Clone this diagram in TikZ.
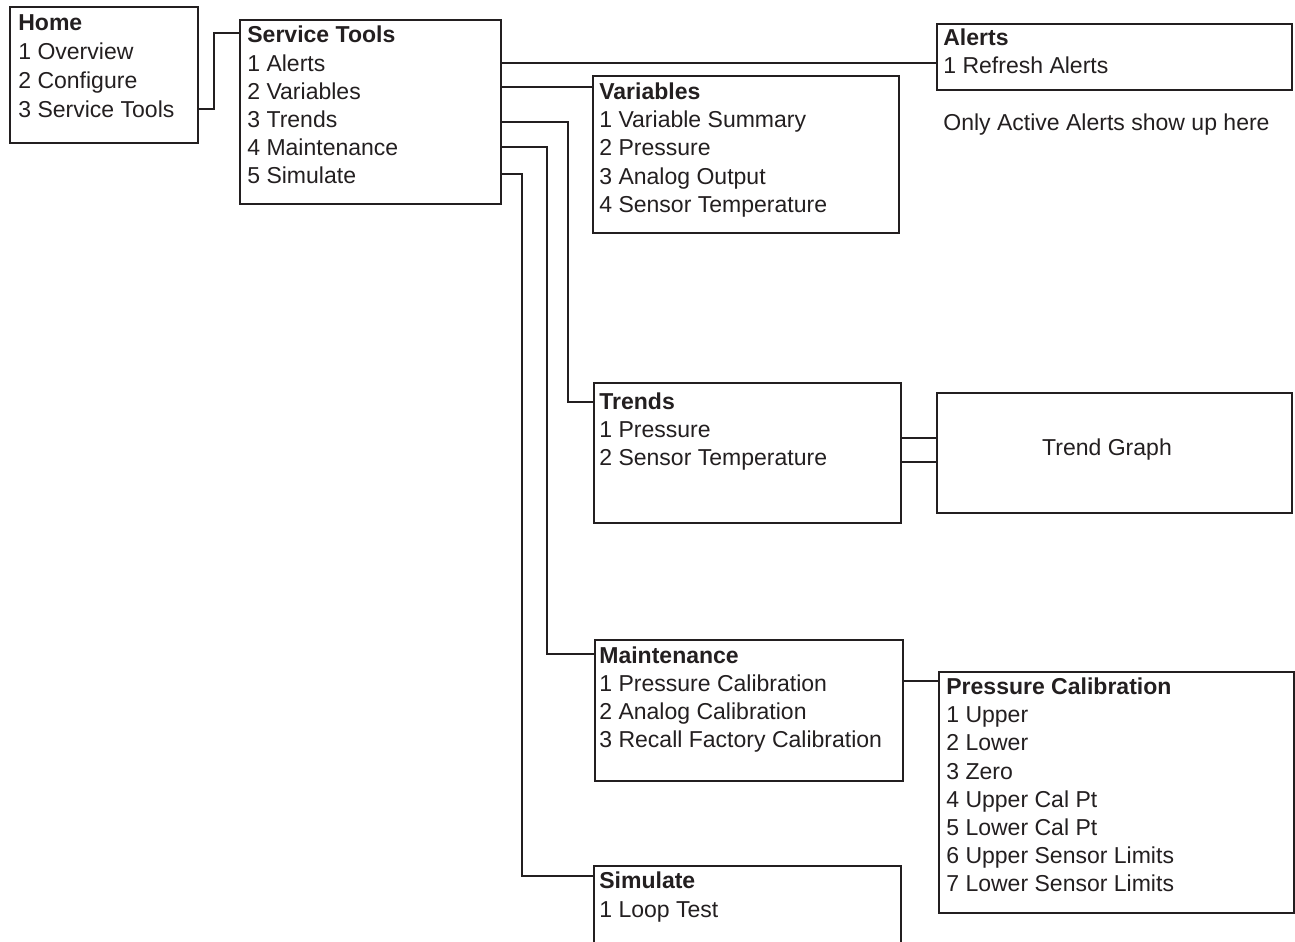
\documentclass[tikz,border=0pt]{standalone}
\usepackage{fontspec}
\setmainfont{Liberation Sans}
\definecolor{ink}{HTML}{231F20}
\tikzset{
  boxst/.style={draw=ink, line width=1.1pt, inner sep=0pt, anchor=north west},
  txt/.style={anchor=base west, inner sep=0pt, text=ink, font=\fontsize{13.1}{15}\selectfont, text height=9pt, text depth=0pt},
  hd/.style={txt, font=\fontsize{13.1}{15}\selectfont\bfseries},
  conn/.style={draw=ink, line width=0.6pt},
}
\newcommand{\mybox}[5]{\node[boxst, minimum width={(#4-#2)*0.02cm}, minimum height={(#5-#3)*0.02cm}] (#1) at (#2,#3) {};}
\newcommand{\mytxt}[4]{\node[txt] (#1) at (#2,#3+8) {#4};}
\newcommand{\myhd}[4]{\node[hd] (#1) at (#2,#3+8) {#4};}
\begin{document}
\begin{tikzpicture}[x=0.02cm, y=-0.02cm]
\useasboundingbox (0,0) rectangle (1295,941);
% boxes
\mybox{home}{9}{6}{197}{142}
\mybox{st}{239}{19}{500}{203}
\mybox{alerts}{936}{23}{1291}{89}
\mybox{var}{592}{75}{898}{232}
\mybox{trends}{593}{382}{900}{522}
\mybox{tg}{936}{392}{1291}{512}
\mybox{maint}{594}{639}{902}{780}
\mybox{pc}{938}{671}{1293}{912}
\node[inner sep=0pt, minimum width={(900-594)*0.02cm}, minimum height={(950-866)*0.02cm}, anchor=north west] (sim) at (594,866) {};
\draw[draw=ink, line width=1.1pt] (sim.south west) -- (sim.north west) -- (sim.north east) -- (sim.south east);
% texts
\myhd{home0}{18}{22}{Home}
\mytxt{home1}{18}{51}{1 Overview}
\mytxt{home2}{18}{80}{2 Configure}
\mytxt{home3}{18}{109}{3 Service Tools}

\myhd{st0}{247}{34}{Service Tools}
\mytxt{st1}{247}{63}{1 Alerts}
\mytxt{st2}{247}{91}{2 Variables}
\mytxt{st3}{247}{119}{3 Trends}
\mytxt{st4}{247}{147}{4 Maintenance}
\mytxt{st5}{247}{175}{5 Simulate}

\myhd{al0}{943}{37}{Alerts}
\mytxt{al1}{943}{65}{1 Refresh Alerts}
\mytxt{note}{943}{122}{Only Active Alerts show up here}

\myhd{var0}{599}{91}{Variables}
\mytxt{var1}{599}{119}{1 Variable Summary}
\mytxt{var2}{599}{147}{2 Pressure}
\mytxt{var3}{599}{176}{3 Analog Output}
\mytxt{var4}{599}{204}{4 Sensor Temperature}

\myhd{tr0}{599}{401}{Trends}
\mytxt{tr1}{599}{429}{1 Pressure}
\mytxt{tr2}{599}{457}{2 Sensor Temperature}

\node[txt, anchor=center] (tgt) at (1107,448) {Trend Graph};

\myhd{mt0}{599}{655}{Maintenance}
\mytxt{mt1}{599}{683}{1 Pressure Calibration}
\mytxt{mt2}{599}{711}{2 Analog Calibration}
\mytxt{mt3}{599}{739}{3 Recall Factory Calibration}

\myhd{pc0}{946}{686}{Pressure Calibration}
\mytxt{pc1}{946}{714}{1 Upper}
\mytxt{pc2}{946}{742}{2 Lower}
\mytxt{pc3}{946}{771}{3 Zero}
\mytxt{pc4}{946}{799}{4 Upper Cal Pt}
\mytxt{pc5}{946}{827}{5 Lower Cal Pt}
\mytxt{pc6}{946}{855}{6 Upper Sensor Limits}
\mytxt{pc7}{946}{883}{7 Lower Sensor Limits}

\myhd{sm0}{599}{880}{Simulate}
\mytxt{sm1}{599}{909}{1 Loop Test}

% connectors
\draw[conn] (home.east |- 0,109) -- (214,109) |- (st.west |- 0,33);
\draw[conn] (st.east |- 0,63) -- (alerts.west |- 0,63);
\draw[conn] (st.east |- 0,87) -- (var.west |- 0,87);
\draw[conn] (st.east |- 0,122) -- (568,122) |- (trends.west |- 0,402);
\draw[conn] (st.east |- 0,147) -- (547,147) |- (maint.west |- 0,654);
\draw[conn] (st.east |- 0,174) -- (522,174) |- (sim.west |- 0,876);
\draw[conn] (trends.east |- 0,438) -- (tg.west |- 0,438);
\draw[conn] (trends.east |- 0,462) -- (tg.west |- 0,462);
\draw[conn] (maint.east |- 0,681) -- (pc.west |- 0,681);
\end{tikzpicture}
\end{document}
